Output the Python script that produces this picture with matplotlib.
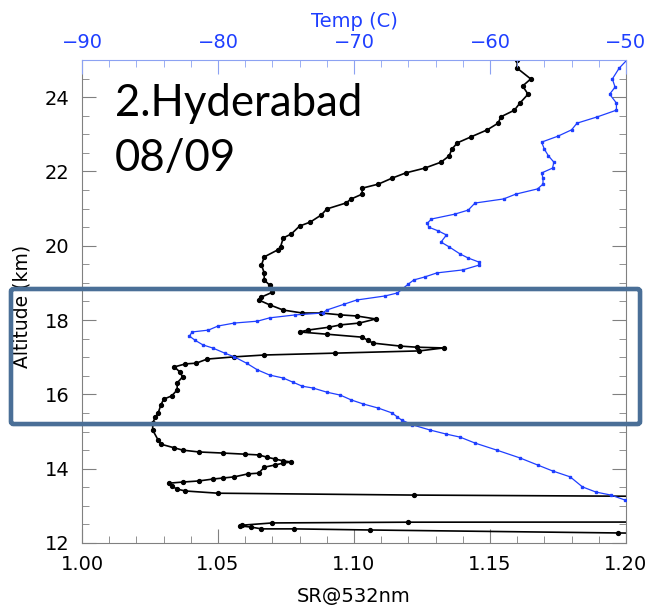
"""
Hyderabad lidar profile: scattering ratio and temperature vs altitude.
"""

import matplotlib.pyplot as plt
from matplotlib.patches import FancyBboxPatch
from matplotlib.ticker import MultipleLocator

# scattering ratio at 532 nm (black profile)
sr_alt = [25.00, 24.78, 24.49, 24.30, 24.08, 23.84, 23.65, 23.47, 23.30, 23.12,
          22.93, 22.77, 22.60, 22.42, 22.25, 22.09, 21.96, 21.82, 21.66, 21.55,
          21.39, 21.26, 21.15, 20.99, 20.83, 20.64, 20.53, 20.32, 20.21, 19.97,
          19.89, 19.70, 19.48, 19.27, 19.08, 18.94, 18.75, 18.62, 18.54, 18.41,
          18.27, 18.19, 18.19, 18.14, 18.11, 18.03, 17.92, 17.87, 17.81, 17.73,
          17.68, 17.62, 17.54, 17.46, 17.38, 17.30, 17.27, 17.25, 17.17, 17.11,
          17.06, 17.01, 16.95, 16.84, 16.82, 16.74, 16.60, 16.47, 16.31, 16.12,
          15.96, 15.87, 15.71, 15.50, 15.39, 15.23, 15.04, 14.77, 14.66, 14.56,
          14.50, 14.45, 14.42, 14.39, 14.37, 14.31, 14.26, 14.21, 14.18, 14.15,
          14.10, 14.04, 13.88, 13.86, 13.78, 13.75, 13.72, 13.67, 13.64, 13.61,
          13.53, 13.45, 13.40, 13.34, 13.29, 13.20, 12.57, 12.56, 12.54, 12.48,
          12.46, 12.43, 12.38, 12.38, 12.35, 12.27, 12.18]
sr = [1.160, 1.160, 1.165, 1.162, 1.164, 1.161, 1.159, 1.154, 1.153, 1.149,
      1.143, 1.138, 1.136, 1.135, 1.132, 1.126, 1.119, 1.114, 1.109, 1.103,
      1.103, 1.099, 1.097, 1.090, 1.088, 1.084, 1.080, 1.077, 1.074, 1.073,
      1.072, 1.067, 1.066, 1.067, 1.067, 1.069, 1.070, 1.066, 1.065, 1.069,
      1.074, 1.081, 1.088, 1.095, 1.101, 1.108, 1.102, 1.095, 1.091, 1.083,
      1.080, 1.090, 1.103, 1.105, 1.107, 1.117, 1.123, 1.133, 1.124, 1.093,
      1.067, 1.056, 1.046, 1.042, 1.038, 1.034, 1.036, 1.037, 1.035, 1.035,
      1.033, 1.030, 1.029, 1.028, 1.027, 1.026, 1.026, 1.028, 1.029, 1.034,
      1.037, 1.043, 1.052, 1.060, 1.065, 1.068, 1.071, 1.074, 1.077, 1.074,
      1.071, 1.067, 1.065, 1.061, 1.056, 1.052, 1.048, 1.043, 1.037, 1.032,
      1.033, 1.035, 1.038, 1.050, 1.122, 1.350, 1.350, 1.120, 1.070, 1.059,
      1.058, 1.062, 1.066, 1.078, 1.106, 1.197, 1.300]

# temperature (blue profile)
t_alt = [25.05, 24.78, 24.49, 24.27, 24.08, 23.84, 23.65, 23.47, 23.30, 23.12,
         22.95, 22.79, 22.60, 22.42, 22.25, 22.09, 21.96, 21.82, 21.66, 21.53,
         21.39, 21.26, 21.15, 20.96, 20.85, 20.72, 20.61, 20.50, 20.40, 20.29,
         20.10, 19.97, 19.78, 19.67, 19.56, 19.48, 19.35, 19.27, 19.16, 19.08,
         18.97, 18.73, 18.65, 18.54, 18.43, 18.27, 18.19, 18.14, 18.06, 17.97,
         17.92, 17.84, 17.73, 17.68, 17.57, 17.46, 17.33, 17.25, 17.11, 17.01,
         16.84, 16.66, 16.52, 16.44, 16.33, 16.22, 16.17, 16.06, 15.98, 15.85,
         15.74, 15.63, 15.50, 15.39, 15.31, 15.18, 15.04, 14.93, 14.85, 14.69,
         14.50, 14.29, 14.10, 13.94, 13.78, 13.51, 13.37, 13.29, 13.16, 12.95]
temp = [-49.8, -50.5, -51.0, -50.8, -51.2, -50.7, -50.7, -52.1, -53.6, -54.0,
        -55.0, -56.2, -56.0, -55.7, -55.3, -55.4, -56.2, -56.1, -56.1, -56.5,
        -58.1, -59.0, -61.1, -61.6, -62.6, -64.3, -64.6, -64.5, -63.8, -63.2,
        -63.6, -63.0, -62.2, -61.6, -60.8, -60.8, -62.0, -63.9, -64.8, -65.6,
        -66.0, -66.8, -67.7, -69.8, -70.7, -72.0, -72.3, -74.3, -76.2, -77.1,
        -78.8, -80.0, -80.7, -81.9, -82.1, -81.7, -81.1, -80.4, -79.5, -78.8,
        -77.9, -77.1, -76.2, -75.2, -74.5, -73.8, -73.0, -72.0, -71.0, -70.2,
        -69.3, -68.2, -67.2, -66.8, -66.5, -65.7, -64.4, -63.2, -62.2, -61.1,
        -59.5, -57.8, -56.5, -55.4, -54.1, -53.2, -52.2, -51.1, -50.1, -49.0]

blue = "#1f3fff"
light_blue = "#8ca2f2"
gray = "#808080"

plt.rcParams["font.family"] = "DejaVu Sans"

fig = plt.figure(figsize=(6.58, 6.11), dpi=100)
ax = fig.add_axes([0.1246, 0.1113, 0.8267, 0.7905])

ax.plot(sr, sr_alt, color="black", lw=1.2, marker="o", ms=2.8)
ax.set_xlim(1.0, 1.2)
ax.set_ylim(12, 25)
ax.xaxis.set_major_locator(MultipleLocator(0.05))
ax.xaxis.set_minor_locator(MultipleLocator(0.01))
ax.yaxis.set_major_locator(MultipleLocator(2))
ax.yaxis.set_minor_locator(MultipleLocator(0.5))
ax.xaxis.set_major_formatter(lambda v, p: f"{v:.2f}")
ax.tick_params(which="both", direction="in", top=False, right=True,
               color=gray, labelsize=14, pad=9)
ax.tick_params(which="major", length=10)
ax.tick_params(which="minor", length=5)
for s in ["left", "right", "bottom"]:
    ax.spines[s].set_color(gray)
ax.spines["top"].set_visible(False)
ax.set_xlabel("SR@532nm", fontsize=14, labelpad=9)
ax.set_ylabel("Altitude (km)", fontsize=13.5)
ax.yaxis.set_label_coords(-0.092, 0.49)

ax2 = ax.twiny()
ax2.plot(temp, t_alt, color=blue, lw=0.9, marker="s", ms=2.0)
ax2.set_xlim(-90, -50)
ax2.xaxis.set_major_locator(MultipleLocator(10))
ax2.xaxis.set_minor_locator(MultipleLocator(2))
ax2.tick_params(which="both", direction="in", color=light_blue,
                labelcolor=blue, labelsize=14, pad=6)
ax2.tick_params(which="major", length=10)
ax2.tick_params(which="minor", length=5)
for s in ["left", "right", "bottom"]:
    ax2.spines[s].set_visible(False)
ax2.spines["top"].set_color(light_blue)
ax2.set_xlabel("Temp (C)", color=blue, fontsize=14, labelpad=4)

# station / date annotation
fig.text(0.1748, 0.8101, "2.Hyderabad", fontsize=31.5, family="Lato",
         va="baseline")
fig.text(0.1748, 0.7201, "08/09", fontsize=31.5, family="Lato",
         va="baseline")

# highlight box round the 15-19 km layer
box = FancyBboxPatch((0.0167, 0.306), 0.956, 0.221,
                     boxstyle="round,pad=0,rounding_size=0.004",
                     transform=fig.transFigure, fill=False,
                     edgecolor="#4a6f97", lw=3.3, zorder=10)
fig.patches.append(box)

fig.savefig("out.png", dpi=100)
